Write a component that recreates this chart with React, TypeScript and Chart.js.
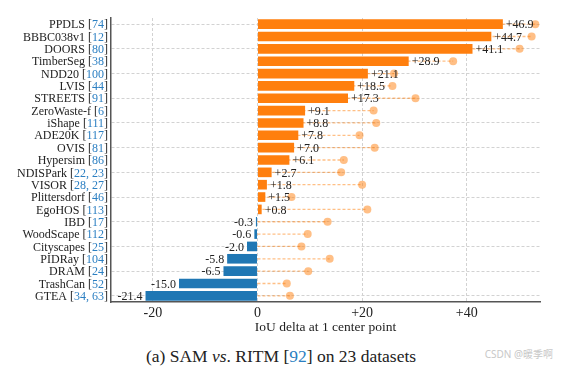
import React, { useEffect, useRef } from "react";
import { Chart, registerables } from "chart.js";

Chart.register(...registerables);

const names = [
  "PPDLS", "BBBC038v1", "DOORS", "TimberSeg", "NDD20", "LVIS", "STREETS",
  "ZeroWaste-f", "iShape", "ADE20K", "OVIS", "Hypersim", "NDISPark", "VISOR",
  "Plittersdorf", "EgoHOS", "IBD", "WoodScape", "Cityscapes", "PIDRay", "DRAM",
  "TrashCan", "GTEA",
];
const refs = [
  "74", "12", "80", "38", "100", "44", "91", "6", "111", "117", "81", "86",
  "22, 23", "28, 27", "46", "113", "17", "112", "25", "104", "24", "52", "34, 63",
];
const deltas = [
  46.9, 44.7, 41.1, 28.9, 21.1, 18.5, 17.3, 9.1, 8.8, 7.8, 7.0, 6.1, 2.7, 1.8,
  1.5, 0.8, -0.3, -0.6, -2.0, -5.8, -6.5, -15.0, -21.4,
];
const oracle = [
  53.1, 52.4, 50.1, 37.4, 26.1, 25.8, 30.2, 22.2, 22.7, 19.5, 22.4, 16.5, 16.0,
  20.0, 6.5, 21.0, 13.4, 9.6, 8.4, 13.8, 9.7, 5.6, 6.2,
];
const xMin = -28;
const xMax = 54;
const xStep = 20;

const SERIF = "'Liberation Serif', 'Times New Roman', serif";
const TEXT = "#222222";
const REF_BLUE = "#2b7fc2";
const ORANGE = "#ff7f0e";
const BLUE = "#1f77b4";
const ORANGE_LIGHT = "rgba(255,127,14,0.5)";

export default function App() {
  const canvasRef = useRef<HTMLCanvasElement | null>(null);

  useEffect(() => {
    const canvas = canvasRef.current;
    if (!canvas) return;
    const labels = names.map((n, i) => `${n} [${refs[i]}]`);

    const lollipopPlugin = {
      id: "lollipop",
      beforeDatasetsDraw(chart: any) {
        const { ctx, scales } = chart;
        const xs = scales.x;
        const ys = scales.y;
        ctx.save();
        ctx.strokeStyle = ORANGE_LIGHT;
        ctx.lineWidth = 1.3;
        ctx.setLineDash([3, 2]);
        oracle.forEach((v, i) => {
          const y = ys.getPixelForValue(i);
          ctx.beginPath();
          ctx.moveTo(xs.getPixelForValue(0), y);
          ctx.lineTo(xs.getPixelForValue(v), y);
          ctx.stroke();
        });
        ctx.restore();
      },
    };

    const textPlugin = {
      id: "texts",
      afterDatasetsDraw(chart: any) {
        const { ctx, scales, chartArea } = chart;
        const xs = scales.x;
        const ys = scales.y;
        ctx.save();
        ctx.font = `12px ${SERIF}`;
        ctx.textBaseline = "middle";
        // value labels
        deltas.forEach((v, i) => {
          const y = ys.getPixelForValue(i);
          const x = xs.getPixelForValue(v);
          ctx.fillStyle = TEXT;
          if (v >= 0) {
            ctx.textAlign = "left";
            ctx.fillText(`+${v.toFixed(1)}`, x + 3, y + 1);
          } else {
            ctx.textAlign = "right";
            ctx.fillText(v.toFixed(1), x - 3, y + 1);
          }
        });
        // category labels with coloured references
        ctx.textAlign = "left";
        names.forEach((n, i) => {
          const y = ys.getPixelForValue(i) + 1;
          const a = `${n} [`;
          const b = refs[i];
          const c = "]";
          const wa = ctx.measureText(a).width;
          const wb = ctx.measureText(b).width;
          const wc = ctx.measureText(c).width;
          let x = chartArea.left - 3 - (wa + wb + wc);
          ctx.fillStyle = TEXT;
          ctx.fillText(a, x, y);
          x += wa;
          ctx.fillStyle = REF_BLUE;
          ctx.fillText(b, x, y);
          x += wb;
          ctx.fillStyle = TEXT;
          ctx.fillText(c, x, y);
        });
        ctx.restore();
      },
    };

    const chart = new Chart(canvas, {
      data: {
        labels,
        datasets: [
          {
            type: "bar",
            data: deltas,
            backgroundColor: deltas.map((v) => (v >= 0 ? ORANGE : BLUE)),
            borderWidth: 0,
            barPercentage: 0.78,
            categoryPercentage: 1,
            order: 2,
          } as any,
          {
            type: "line",
            data: oracle,
            indexAxis: "y",
            showLine: false,
            pointRadius: 4,
            pointHoverRadius: 4,
            pointBackgroundColor: ORANGE_LIGHT,
            pointBorderWidth: 0,
            order: 1,
          } as any,
        ],
      },
      options: {
        indexAxis: "y",
        animation: false,
        responsive: false,
        maintainAspectRatio: false,
        layout: { padding: { top: 18, right: 22, left: 0, bottom: 0 } },
        plugins: {
          legend: { display: false },
          tooltip: { enabled: false },
        },
        scales: {
          x: {
            type: "linear",
            min: xMin,
            max: xMax,
            ticks: {
              stepSize: xStep,
              includeBounds: false,
              color: TEXT,
              font: { family: SERIF, size: 14 },
              padding: 3,
              callback: (v: any) => (Number(v) > 0 ? `+${v}` : `${v}`),
            },
            grid: { color: "#d2d2d2", lineWidth: 1, drawTicks: false },
            border: { display: true, color: "#555555", width: 1.5, dash: [3, 2] },
            title: {
              display: true,
              text: "IoU delta at 1 center point",
              color: TEXT,
              font: { family: SERIF, size: 13.5 },
              padding: { top: 0, bottom: 4 },
            },
            afterFit: (s: any) => {
              s.height = 38;
            },
          },
          y: {
            type: "category",
            grid: { color: "#d2d2d2", lineWidth: 1, drawTicks: false, offset: false },
            border: { display: true, color: "#555555", width: 1.5, dash: [3, 2] },
            ticks: { color: "rgba(0,0,0,0)", font: { family: SERIF, size: 12 } },
            afterFit: (s: any) => {
              s.width = 111;
            },
          },
        },
      } as any,
      plugins: [lollipopPlugin, textPlugin],
    });
    return () => chart.destroy();
  }, []);

  return (
    <div
      style={{
        position: "fixed",
        left: 0,
        top: 0,
        width: 562,
        height: 367,
        background: "#ffffff",
        overflow: "hidden",
      }}
    >
      <canvas ref={canvasRef} width={562} height={340} style={{ display: "block" }} />
      <div
        style={{
          position: "absolute",
          top: 346,
          left: 0,
          width: 562,
          textAlign: "center",
          fontFamily: SERIF,
          fontSize: 17.5,
          lineHeight: "21px",
          color: TEXT,
        }}
      >
        (a) SAM <i>vs</i>. RITM [<span style={{ color: REF_BLUE }}>92</span>] on 23 datasets
      </div>
      <div
        style={{
          position: "absolute",
          top: 347,
          right: 9,
          fontFamily: "'Noto Sans', 'Noto Sans CJK SC', sans-serif",
          fontSize: 10,
          lineHeight: "14px",
          color: "#c8c8c8",
        }}
      >
        CSDN @暖季啊
      </div>
    </div>
  );
}
